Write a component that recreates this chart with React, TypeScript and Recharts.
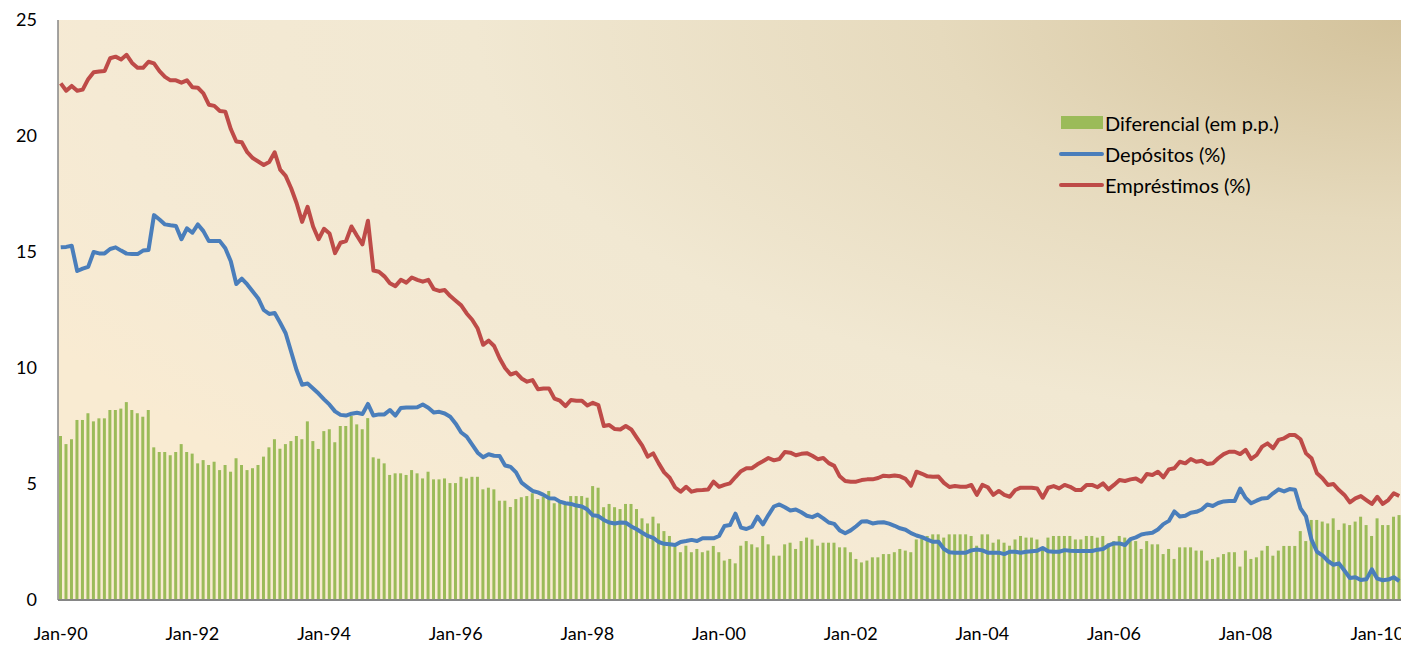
import { ComposedChart, Bar, Line, XAxis, YAxis, CartesianGrid, Legend } from "recharts"

// Jan-90 .. May-10, monthly
const MONTH_NAMES = ["Jan", "Feb", "Mar", "Apr", "May", "Jun", "Jul", "Aug", "Sep", "Oct", "Nov", "Dec"]
const N_MONTHS = 245
const meses = Array.from({ length: N_MONTHS }, (_, i) => {
  const yy = (90 + Math.floor(i / 12)) % 100
  return `${MONTH_NAMES[i % 12]}-${String(yy).padStart(2, "0")}`
})

const yTicks = [0, 5, 10, 15, 20, 25]

// one row per year
const emprestimos = [
  22.27, 21.95, 22.16, 21.95, 22.0, 22.45, 22.75, 22.78, 22.8, 23.35, 23.42, 23.3,
  23.5, 23.15, 22.94, 22.94, 23.2, 23.13, 22.8, 22.55, 22.4, 22.4, 22.3, 22.4,
  22.1, 22.08, 21.84, 21.35, 21.3, 21.08, 21.05, 20.3, 19.76, 19.73, 19.3, 19.05,
  18.9, 18.75, 18.88, 19.3, 18.55, 18.28, 17.75, 17.1, 16.3, 16.95, 16.1, 15.55,
  16.0, 15.8, 14.95, 15.4, 15.47, 16.1, 15.7, 15.33, 16.35, 14.2, 14.15, 13.95,
  13.65, 13.53, 13.8, 13.68, 13.9, 13.8, 13.72, 13.8, 13.4, 13.32, 13.36, 13.1,
  12.9, 12.7, 12.35, 12.08, 11.7, 11.0, 11.18, 10.95, 10.42, 10.0, 9.72, 9.8,
  9.55, 9.41, 9.48, 9.08, 9.12, 9.12, 8.68, 8.59, 8.36, 8.62, 8.59, 8.59,
  8.38, 8.5, 8.4, 7.5, 7.54, 7.37, 7.35, 7.5, 7.35, 7.0, 6.65, 6.18,
  6.32, 5.89, 5.5, 5.27, 4.85, 4.67, 4.88, 4.67, 4.73, 4.74, 4.76, 5.1,
  4.88, 4.96, 5.03, 5.3, 5.55, 5.68, 5.68, 5.85, 5.98, 6.12, 6.02, 6.08,
  6.38, 6.35, 6.24, 6.3, 6.33, 6.22, 6.07, 6.12, 5.9, 5.78, 5.33, 5.13,
  5.1, 5.1, 5.17, 5.2, 5.2, 5.26, 5.36, 5.33, 5.37, 5.33, 5.22, 4.93,
  5.53, 5.44, 5.33, 5.31, 5.32, 5.05, 4.87, 4.91, 4.88, 4.88, 4.96, 4.53,
  4.96, 4.86, 4.53, 4.7, 4.53, 4.45, 4.74, 4.84, 4.84, 4.84, 4.81, 4.41,
  4.84, 4.91, 4.81, 4.96, 4.88, 4.74, 4.74, 4.96, 4.96, 4.86, 5.03, 4.77,
  4.96, 5.17, 5.13, 5.2, 5.24, 5.1, 5.43, 5.39, 5.53, 5.29, 5.63, 5.68,
  5.96, 5.89, 6.08, 5.96, 6.0, 5.86, 5.89, 6.11, 6.29, 6.39, 6.39, 6.29,
  6.47, 6.08, 6.25, 6.61, 6.75, 6.54, 6.9, 6.97, 7.11, 7.11, 6.93, 6.32,
  6.11, 5.46, 5.25, 4.96, 5.0, 4.74, 4.53, 4.21, 4.38, 4.48, 4.31, 4.14,
  4.45, 4.14, 4.31, 4.6, 4.48,
]

const depositos = [
  15.2, 15.22, 15.27, 14.18, 14.28, 14.36, 15.0, 14.94, 14.94, 15.13, 15.2, 15.06,
  14.93, 14.91, 14.91, 15.06, 15.09, 16.59, 16.4, 16.19, 16.15, 16.12, 15.55, 16.02,
  15.83, 16.19, 15.9, 15.47, 15.47, 15.47, 15.16, 14.6, 13.62, 13.85, 13.6, 13.3,
  13.0, 12.5, 12.33, 12.37, 11.95, 11.5, 10.7, 9.9, 9.28, 9.33, 9.12, 8.9,
  8.65, 8.42, 8.13, 7.98, 7.95, 8.03, 8.07, 8.02, 8.45, 7.95, 8.0, 8.0,
  8.19, 7.95, 8.28, 8.3, 8.3, 8.31, 8.43, 8.29, 8.08, 8.11, 8.04, 7.9,
  7.6, 7.22, 7.04, 6.7, 6.35, 6.15, 6.28, 6.22, 6.21, 5.8, 5.74, 5.5,
  5.06, 4.88, 4.7, 4.64, 4.53, 4.39, 4.38, 4.24, 4.17, 4.14, 4.07, 4.03,
  3.9, 3.65, 3.62, 3.45, 3.34, 3.3, 3.34, 3.33, 3.17, 3.05, 2.9, 2.76,
  2.68, 2.5, 2.42, 2.4, 2.37, 2.5, 2.54, 2.59, 2.54, 2.66, 2.66, 2.66,
  2.76, 3.19, 3.23, 3.72, 3.12, 3.06, 3.16, 3.59, 3.26, 3.66, 4.03, 4.12,
  4.0, 3.86, 3.9, 3.78, 3.63, 3.57, 3.68, 3.52, 3.34, 3.28, 3.0, 2.88,
  3.0, 3.18, 3.38, 3.39, 3.3, 3.34, 3.35, 3.29, 3.2, 3.09, 3.03, 2.88,
  2.78, 2.71, 2.6, 2.51, 2.51, 2.2, 2.06, 2.04, 2.04, 2.04, 2.14, 2.18,
  2.14, 2.04, 2.04, 2.04, 1.98, 2.08, 2.08, 2.04, 2.08, 2.1, 2.12, 2.24,
  2.1, 2.08, 2.08, 2.15, 2.12, 2.11, 2.11, 2.11, 2.11, 2.17, 2.2, 2.35,
  2.44, 2.44, 2.37, 2.62, 2.7, 2.82, 2.87, 2.9, 3.04, 3.27, 3.41, 3.82,
  3.6, 3.63, 3.76, 3.8, 3.9, 4.12, 4.05, 4.18, 4.25, 4.27, 4.27, 4.8,
  4.4, 4.17, 4.28, 4.38, 4.4, 4.6, 4.77, 4.68, 4.78, 4.75, 3.95, 3.6,
  2.6, 2.08, 1.92, 1.68, 1.52, 1.58, 1.27, 0.95, 0.98, 0.86, 0.89, 1.32,
  0.92, 0.85, 0.88, 0.98, 0.82,
]

const diferencial = [
  7.07, 6.72, 6.93, 7.76, 7.76, 8.05, 7.7, 7.83, 7.83, 8.19, 8.19, 8.25,
  8.53, 8.19, 8.05, 7.9, 8.19, 6.58, 6.38, 6.38, 6.24, 6.38, 6.72, 6.38,
  6.31, 5.89, 6.03, 5.82, 5.96, 5.6, 5.82, 5.53, 6.11, 5.82, 5.6, 5.68,
  5.82, 6.18, 6.58, 6.93, 6.52, 6.72, 6.85, 7.07, 6.93, 7.7, 6.85, 6.51,
  7.28, 7.36, 6.8, 7.5, 7.5, 7.93, 7.57, 7.36, 7.84, 6.15, 6.09, 5.89,
  5.39, 5.46, 5.46, 5.39, 5.6, 5.46, 5.24, 5.53, 5.2, 5.2, 5.24, 5.04,
  5.04, 5.31, 5.24, 5.31, 5.31, 4.77, 4.84, 4.77, 4.28, 4.28, 4.01, 4.35,
  4.43, 4.48, 4.6, 4.35, 4.45, 4.7, 4.17, 4.27, 4.12, 4.48, 4.48, 4.48,
  4.41, 4.91, 4.84, 4.0, 4.14, 4.0, 3.92, 4.14, 4.14, 3.92, 3.52, 3.3,
  3.59, 3.3, 2.97, 2.76, 2.3, 2.06, 2.34, 2.06, 2.2, 2.06, 2.13, 2.33,
  2.06, 1.7, 1.77, 1.58, 2.34, 2.54, 2.4, 2.27, 2.76, 2.4, 1.91, 1.91,
  2.4, 2.47, 2.2, 2.54, 2.69, 2.61, 2.34, 2.47, 2.47, 2.47, 2.27, 2.27,
  2.06, 1.77, 1.62, 1.7, 1.84, 1.84, 1.98, 1.98, 2.06, 2.2, 2.13, 2.06,
  2.61, 2.76, 2.76, 2.83, 2.83, 2.69, 2.83, 2.83, 2.83, 2.83, 2.76, 2.34,
  2.83, 2.83, 2.47, 2.61, 2.47, 2.34, 2.61, 2.76, 2.69, 2.69, 2.61, 2.15,
  2.69, 2.76, 2.76, 2.76, 2.76, 2.61, 2.61, 2.76, 2.76, 2.69, 2.76, 2.44,
  2.54, 2.76, 2.69, 2.61, 2.54, 2.2, 2.54, 2.4, 2.4, 1.98, 2.2, 1.77,
  2.27, 2.27, 2.27, 2.13, 2.13, 1.7, 1.77, 1.84, 1.98, 2.06, 2.06, 1.44,
  2.13, 1.77, 1.84, 2.13, 2.33, 1.91, 2.13, 2.33, 2.33, 2.33, 2.97, 2.54,
  3.45, 3.45, 3.38, 3.3, 3.52, 3.02, 3.3, 3.23, 3.38, 3.59, 3.23, 2.76,
  3.52, 3.23, 3.23, 3.59, 3.66,
]

const GREEN = "#9BBB59"
const BLUE = "#4A7EBB"
const RED = "#BE4B48"
const FONT = "Lato, 'Open Sans', sans-serif"

const data = meses.map((mes, i) => ({
  mes,
  diferencial: diferencial[i],
  depositos: depositos[i],
  emprestimos: emprestimos[i],
}))

const legendItems = [
  { label: "Diferencial (em p.p.)", color: GREEN, kind: "rect" },
  { label: "Depósitos (%)", color: BLUE, kind: "line" },
  { label: "Empréstimos (%)", color: RED, kind: "line" },
]

function LegendBox() {
  return (
    <div style={{ fontFamily: FONT, fontSize: 20, color: "#000" }}>
      {legendItems.map((it) => (
        <div key={it.label} style={{ display: "flex", alignItems: "center", height: 31 }}>
          <div style={{ width: 47, display: "flex", alignItems: "center" }}>
            {it.kind === "rect" ? (
              <div style={{ width: 42, height: 13, marginLeft: 3, background: it.color }} />
            ) : (
              <div style={{ width: 45, height: 4, marginLeft: 1, borderRadius: 2, background: it.color }} />
            )}
          </div>
          <span style={{ whiteSpace: "nowrap" }}>{it.label}</span>
        </div>
      ))}
    </div>
  )
}

export default function App() {
  return (
    <div style={{ position: "absolute", left: 0, top: 0, width: 1401, height: 645, overflow: "hidden", background: "#fff" }}>
      <ComposedChart width={1402} height={645} data={data} margin={{ top: 20, right: 0, bottom: 0, left: 0 }}>
        <defs>
          <radialGradient id="plotBg" cx="1" cy="0" r="1.15">
            <stop offset="0" stopColor="#D3C29B" />
            <stop offset="0.3" stopColor="#E6DABD" />
            <stop offset="0.6" stopColor="#F1E8D2" />
            <stop offset="0.85" stopColor="#F5EAD4" />
            <stop offset="1" stopColor="#F9EBD2" />
          </radialGradient>
        </defs>
        <CartesianGrid horizontal={false} vertical={false} fill="url(#plotBg)" />
        <XAxis
          dataKey="mes"
          interval={23}
          tickLine={false}
          tickSize={0}
          tickMargin={27}
          height={45}
          axisLine={{ stroke: "#868686", strokeWidth: 2 }}
          tick={{ fontFamily: FONT, fontSize: 18, fill: "#000" }}
        />
        <YAxis
          domain={[0, 25]}
          ticks={yTicks}
          width={58}
          tickLine={false}
          tickSize={0}
          tickMargin={21}
          axisLine={{ stroke: "#868686", strokeWidth: 1.5 }}
          tick={{ fontFamily: FONT, fontSize: 18, fill: "#000" }}
        />
        <Legend
          layout="vertical"
          align="center"
          verticalAlign="middle"
          wrapperStyle={{ left: 1058, top: 107, width: 280 }}
          content={<LegendBox />}
        />
        <Bar dataKey="diferencial" name="Diferencial (em p.p.)" fill={GREEN} barSize={3} isAnimationActive={false} />
        <Line
          type="linear"
          dataKey="depositos"
          name="Depósitos (%)"
          stroke={BLUE}
          strokeWidth={4}
          dot={false}
          strokeLinejoin="round"
          isAnimationActive={false}
        />
        <Line
          type="linear"
          dataKey="emprestimos"
          name="Empréstimos (%)"
          stroke={RED}
          strokeWidth={4}
          dot={false}
          strokeLinejoin="round"
          isAnimationActive={false}
        />
      </ComposedChart>
    </div>
  )
}
